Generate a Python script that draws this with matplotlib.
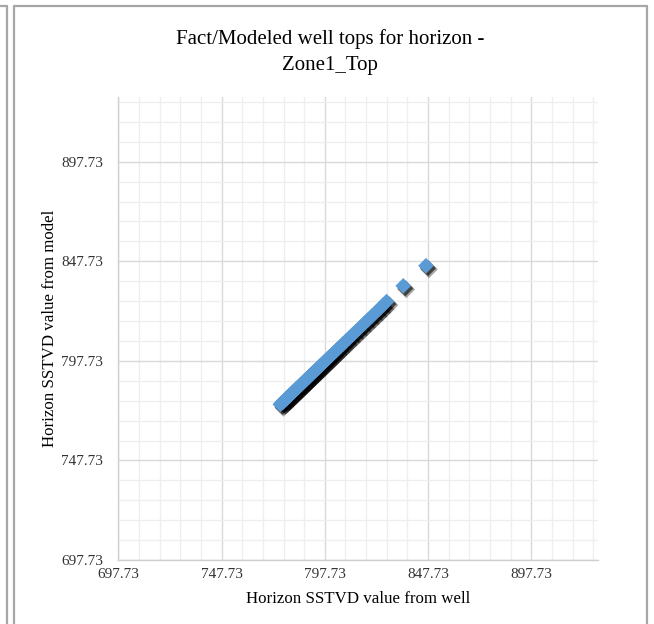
import matplotlib
matplotlib.use("Agg")
import matplotlib.pyplot as plt
from matplotlib.lines import Line2D
from matplotlib.ticker import FixedLocator
from matplotlib.transforms import offset_copy

plt.rcParams['font.family'] = ['Liberation Serif', 'DejaVu Serif']

# well tops: SSTVD from well (x) vs from model (y)
well_sstvd = [776.2, 776.9, 777.5, 778.2, 778.8, 779.5, 780.1, 780.8, 781.4, 782.1,
              782.7, 783.4, 784.0, 784.7, 785.3, 786.0, 786.6, 787.3, 787.9, 788.6,
              789.2, 789.9, 790.5, 791.2, 791.9, 792.6, 793.3, 794.1, 794.8, 795.6,
              796.4, 797.2, 798.1, 799.0, 799.9, 800.9, 801.9, 803.0, 804.1, 805.3,
              806.6, 808.0, 809.5, 811.1, 812.8, 814.6, 816.5, 818.4, 820.3, 822.2,
              824.1, 825.8, 827.6, 835.7, 846.7]
model_sstvd = [775.9, 776.7, 777.0, 777.9, 778.6, 779.0, 779.9, 780.4, 781.2, 781.7,
               782.5, 783.0, 783.8, 784.3, 785.1, 785.6, 786.4, 786.9, 787.7, 788.2,
               789.0, 789.5, 790.3, 790.9, 791.6, 792.3, 793.0, 793.8, 794.5, 795.3,
               796.1, 796.9, 797.8, 798.7, 799.6, 800.6, 801.6, 802.7, 803.8, 805.0,
               806.3, 807.7, 809.2, 810.8, 812.5, 814.3, 816.2, 818.1, 820.0, 821.9,
               823.8, 825.6, 827.5, 835.4, 845.5]

tick_vals = [697.73, 747.73, 797.73, 847.73, 897.73]
tick_labels = ["697.73", "747.73", "797.73", "847.73", "897.73"]

fig = plt.figure(figsize=(6.54, 6.24), dpi=100)
ax = fig.add_axes([118.3 / 654, 1 - 560 / 624, (598 - 118.3) / 654, (560 - 96.7) / 624])

# chart frame like the spreadsheet export
frame_c = "#a6a6a6"
fig.add_artist(Line2D([14 / 654, 14 / 654, 647 / 654, 647 / 654], [0, 1 - 6 / 624, 1 - 6 / 624, 0],
                      transform=fig.transFigure, color=frame_c, lw=1.6))
fig.add_artist(Line2D([0, 7 / 654, 7 / 654], [1 - 6 / 624, 1 - 6 / 624, 0],
                      transform=fig.transFigure, color=frame_c, lw=1.6))

# soft marker shadow, then the markers
for dx, dy, sz, a in [(2.2, -2.6, 80, 0.35), (1.5, -1.8, 66, 0.6)]:
    shadow = offset_copy(ax.transData, fig=fig, x=dx, y=dy, units='points')
    ax.scatter(well_sstvd, model_sstvd, marker='D', s=sz, color='black', alpha=a,
               edgecolors='none', transform=shadow, zorder=3)
ax.scatter(well_sstvd, model_sstvd, marker='D', s=64, color='#5b9bd5',
           edgecolors='none', zorder=4)

ax.set_xlim(697.73, 930.0)
ax.set_ylim(697.73, 930.4)
ax.xaxis.set_major_locator(FixedLocator(tick_vals))
ax.yaxis.set_major_locator(FixedLocator(tick_vals))
ax.set_xticklabels(tick_labels)
ax.set_yticklabels(tick_labels)
ax.xaxis.set_minor_locator(FixedLocator([697.73 + 10 * i for i in range(1, 24)]))
ax.yaxis.set_minor_locator(FixedLocator([697.73 + 10 * i for i in range(1, 24)]))
ax.grid(which='major', color='#d9d9d9', lw=1.0, zorder=0)
ax.grid(which='minor', color='#eeeeee', lw=0.9, zorder=0)
ax.set_axisbelow(True)
ax.tick_params(which='both', length=0, labelsize=11, colors='#333333')
ax.tick_params(axis='x', pad=6)
ax.tick_params(axis='y', pad=11)

for s in ['top', 'right']:
    ax.spines[s].set_visible(False)
for s in ['left', 'bottom']:
    ax.spines[s].set_color('#d0d0d0')
    ax.spines[s].set_linewidth(1.0)

ax.set_xlabel("Horizon SSTVD value from well", fontsize=12.2, labelpad=7)
ax.set_ylabel("Horizon SSTVD value from model", fontsize=12.2, labelpad=2)
fig.text(330 / 654, 1 - 52 / 624,
         "Fact/Modeled well tops for horizon -\nZone1_Top",
         ha='center', va='center', fontsize=15, linespacing=1.5)

fig.savefig("out.png", dpi=100)
